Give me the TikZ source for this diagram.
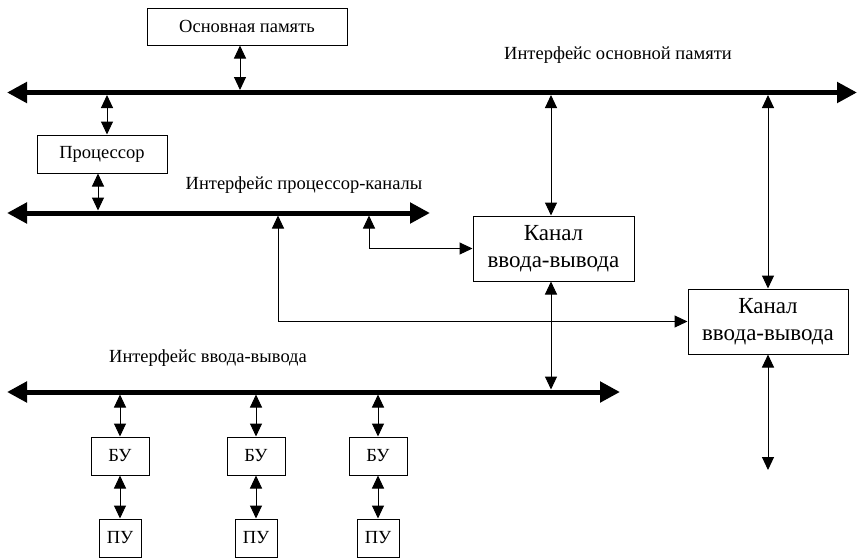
\documentclass[tikz,border=0pt]{standalone}
\usepackage{fontspec}
\setmainfont{Liberation Serif}
\newfontfamily\tms{Liberation Serif}
\usetikzlibrary{arrows.meta}
\begin{document}
\begin{tikzpicture}[x=1pt,y=-1pt,
  box/.style={draw,line width=1pt,fill=white,inner sep=0pt,align=center},
  lbl/.style={font=\tms\fontsize{18.5}{21}\selectfont},
  big/.style={font=\tms\fontsize{23}{27}\selectfont},
  bus/.style={line width=5pt,{Triangle[length=20pt,width=20pt]}-{Triangle[length=20pt,width=20pt]}},
  dbl/.style={line width=1pt,{Triangle[length=13pt,width=12pt]}-{Triangle[length=13pt,width=12pt]}}]
\useasboundingbox (0,0) rectangle (860,558);
% buses
\coordinate (b1l) at (7,92.5);  \coordinate (b1r) at (857,92.5);
\coordinate (b2l) at (7,213);   \coordinate (b2r) at (430,213);
\coordinate (b3l) at (7,392);   \coordinate (b3r) at (620,392);
\draw[bus] (b1l) -- (b1r);
\draw[bus] (b2l) -- (b2r);
\draw[bus] (b3l) -- (b3r);
% labels
\node[lbl] (l1) at (618,55) {Интерфейс основной памяти};
\node[lbl] (l2) at (304,185) {Интерфейс процессор-каналы};
\node[lbl] (l3) at (208,358) {Интерфейс ввода-вывода};
% boxes
\node[box,lbl,minimum width=200pt,minimum height=37pt] (mem) at (247,26.5) {Основная память};
\node[box,lbl,minimum width=130pt,minimum height=38pt] (proc) at (102,154) {Процессор};
\node[box,big,minimum width=161pt,minimum height=65pt] (ch1) at (553.5,248.5) {Канал\\ввода-вывода};
\node[box,big,minimum width=160pt,minimum height=65pt] (ch2) at (768,321.5) {Канал\\ввода-вывода};
\foreach \i/\x in {1/120,2/256,3/378}{
  \node[box,lbl,minimum width=58pt,minimum height=38pt] (bu\i) at (\x,456) {БУ};
  \node[box,lbl,minimum width=42pt,minimum height=38pt] (pu\i) at (\x,538) {ПУ};
}
% bus attach coordinates
\coordinate (m1) at (240,90);
\coordinate (pa) at (107,95);
\coordinate (pb) at (98,210.5);
\coordinate (q1) at (278,215.5);
\coordinate (q2) at (369,215.5);
\coordinate (c1) at (551,95);
\coordinate (c1b) at (551,389.5);
\coordinate (c2) at (768,95);
\coordinate (c2e) at (768,470);
\draw[dbl] (mem.south -| m1) -- (m1);
\draw[dbl] (pa) -- (proc.north -| pa);
\draw[dbl] (proc.south -| pb) -- (pb);
\draw[dbl] (q1) |- (ch2.west);
\draw[dbl] (q2) |- (ch1.west);
\draw[dbl] (c1) -- (ch1.north -| c1);
\draw[dbl] (ch1.south -| c1b) -- (c1b);
\draw[dbl] (c2) -- (ch2.north -| c2);
\draw[dbl] (ch2.south -| c2e) -- (c2e);
\foreach \i in {1,2,3}{
  \coordinate (t\i) at (bu\i.north |- 0,394.5);
  \draw[dbl] (t\i) -- (bu\i.north);
  \draw[dbl] (bu\i.south) -- (pu\i.north);
}
\end{tikzpicture}
\end{document}
